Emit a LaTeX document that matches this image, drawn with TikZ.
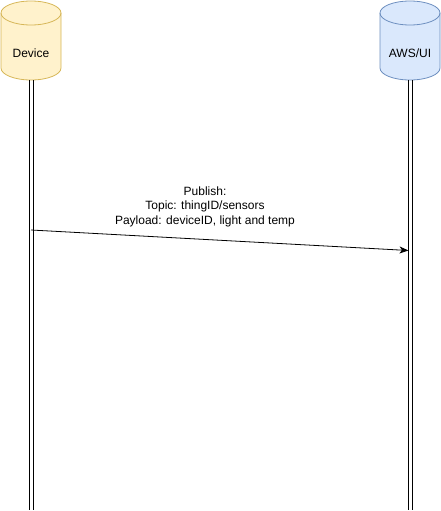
\documentclass[tikz,border=0pt]{standalone}
\usepackage{fontspec}
\setmainfont{Liberation Sans}
\usepackage{xcolor}
\usetikzlibrary{positioning,arrows.meta}
\definecolor{devfill}{HTML}{FFF2CC}
\definecolor{devline}{HTML}{D6B656}
\definecolor{awsfill}{HTML}{DAE8FC}
\definecolor{awsline}{HTML}{6C8EBF}
\begin{document}
\begin{tikzpicture}[x=1pt, y=-1pt, font=\fontsize{12}{14.5}\selectfont,
	dbline/.style={line width=0.8pt},
	life/.style={line width=1pt},
	msg/.style={-{Stealth[length=9pt, width=7pt, inset=2.5pt]}, line width=0.8pt}]
	\useasboundingbox (0,0) rectangle (441,511);
	% cylinders
	\filldraw[dbline, fill=devfill, draw=devline] (1,13) arc[start angle=180, end angle=360, x radius=30, y radius=12] -- (61,68) arc[start angle=0, end angle=180, x radius=30, y radius=12] -- cycle;
	\draw[dbline, devline] (1,13) arc[start angle=180, end angle=0, x radius=30, y radius=12];
	\filldraw[dbline, fill=awsfill, draw=awsline] (380,13) arc[start angle=180, end angle=360, x radius=30, y radius=12] -- (440,68) arc[start angle=0, end angle=180, x radius=30, y radius=12] -- cycle;
	\draw[dbline, awsline] (380,13) arc[start angle=180, end angle=0, x radius=30, y radius=12];
	\node (device) at (31,53) {Device};
	\node (aws) at (410,53) {AWS/UI};
	% lifelines
	\coordinate (deviceTop) at (31,80);
	\coordinate (deviceEnd) at (31,510);
	\coordinate (awsTop) at (410,80);
	\coordinate (awsEnd) at (410,510);
	\foreach \s in {-2,2} {
		\draw[life] ([xshift=\s pt]deviceTop) -- ([xshift=\s pt]deviceEnd);
		\draw[life] ([xshift=\s pt]awsTop) -- ([xshift=\s pt]awsEnd);
	}
	% message
	\coordinate (pubStart) at (31,230);
	\coordinate (pubEnd) at (408.5,250.5);
	\draw[msg] (pubStart) -- (pubEnd);
	\node[align=center] (pubLabel) at (205,206.5) {Publish:\\Topic: thingID/sensors\\Payload: deviceID, light and temp};
\end{tikzpicture}
\end{document}
